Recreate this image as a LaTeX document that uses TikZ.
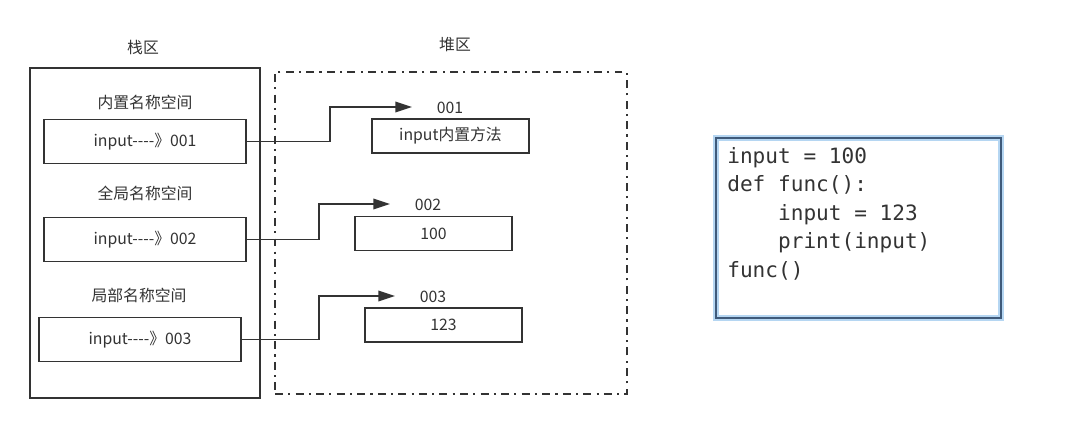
\documentclass[tikz,border=0pt]{standalone}
\usepackage{fontspec}
\setmainfont{Noto Sans CJK SC}
\setmonofont{DejaVu Sans Mono}
\usepackage{tikz}
\usetikzlibrary{arrows.meta}
\usetikzlibrary{positioning}
\definecolor{linegrey}{HTML}{333333}
\definecolor{glowblue}{HTML}{B5D6F2}
\definecolor{edgeblue}{HTML}{3F5A7A}
\newcommand{\pointsto}{-\kern0pt-\kern0pt-\kern0pt-》}
\tikzstyle{stackarea} = [rectangle, draw=linegrey, line width=1.1pt, inner sep=0pt]
\tikzstyle{heaparea} = [rectangle, draw=linegrey, line width=1.1pt, inner sep=0pt, dash pattern=on 4.5pt off 3pt on 1.2pt off 3pt]
\tikzstyle{nsbox} = [rectangle, draw=linegrey, line width=1.1pt, minimum width=4.04cm, minimum height=0.88cm, text centered, text=linegrey, font=\fontsize{9}{11}\selectfont]
\tikzstyle{objbox} = [rectangle, draw=linegrey, line width=1.1pt, minimum width=3.14cm, minimum height=0.68cm, text centered, text=linegrey, font=\fontsize{9}{11}\selectfont]
\tikzstyle{caption} = [text=linegrey, font=\fontsize{9}{11}\selectfont, inner sep=0pt]
\tikzstyle{ref} = [draw=linegrey, line width=1.1pt, -{Triangle[length=9.5pt,width=6pt]}]

\begin{document}
\begin{tikzpicture}[x=0.02cm, y=-0.02cm]
 \useasboundingbox (0,0) rectangle (1082,435);

 % stack area
 \node (stack) [stackarea, minimum width=4.6cm, minimum height=6.6cm] at (145,233) {};
 \node (stacklabel) [caption] at (143,47) {栈区};
 \node (builtinlabel) [caption] at (145,102) {内置名称空间};
 \node (builtin) [nsbox] at (145,141.5) {input\pointsto 001};
 \node (globallabel) [caption] at (145,193) {全局名称空间};
 \node (global) [nsbox] at (145,239.5) {input\pointsto 002};
 \node (locallabel) [caption] at (139,295) {局部名称空间};
 \node (local) [nsbox] at (140,339.5) {input\pointsto 003};

 % heap area
 \node (heap) [heaparea, minimum width=7.04cm, minimum height=6.44cm] at (451,233) {};
 \node (heaplabel) [caption] at (455,45) {堆区};
 \node (addr1) [caption] at (450,108) {001};
 \node (obj1) [objbox] at (450.5,136) {input内置方法};
 \node (addr2) [caption] at (428,205) {002};
 \node (obj2) [objbox] at (433.5,233.5) {100};
 \node (addr3) [caption] at (433,297) {003};
 \node (obj3) [objbox] at (443.5,325) {123};

 % references
 \coordinate (tip1) at (412,107);
 \coordinate (tip2) at (390,204);
 \coordinate (tip3) at (395,296);
 \draw[ref] (builtin.east) -- ++(83,0) |- (tip1);
 \draw[ref] (global.east) -- ++(72,0) |- (tip2);
 \draw[ref] (local.east) -- ++(77,0) |- (tip3);

 % source code
 \node (codeglow) [rectangle, draw=glowblue, line width=3.5pt, minimum width=5.7cm, minimum height=3.6cm] at (858.5,228) {};
 \node (code) [rectangle, draw=edgeblue, line width=0.8pt, minimum width=5.7cm, minimum height=3.6cm] at (858.5,228) {};
 \node (source) [anchor=north west, inner sep=0pt, align=left, text=linegrey,
   font=\ttfamily\fontsize{12}{16.2}\selectfont] at (727,147) {input = 100\\
def func():\\
\phantom{func}input = 123\\
\phantom{func}print(input)\\
func()};
\end{tikzpicture}
\end{document}
